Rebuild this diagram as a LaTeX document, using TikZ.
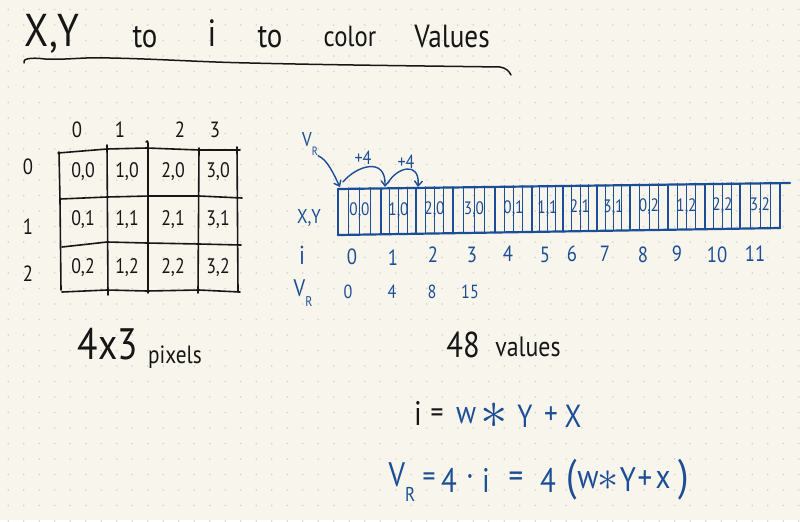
\documentclass[tikz,border=0pt]{standalone}
\usepackage{fontspec}
\setmainfont{PT Sans}[FakeStretch=0.85]
\usetikzlibrary{arrows.meta}
\definecolor{paper}{HTML}{F8F6EC}
\definecolor{dotc}{HTML}{D4D2C8}
\definecolor{ink}{HTML}{161616}
\definecolor{bink}{HTML}{1C4E97}
\tikzset{
  tk/.style={font=\fontsize{#1}{#1}\selectfont, inner sep=0pt, text=ink},
  tb/.style={font=\fontsize{#1}{#1}\selectfont, inner sep=0pt, text=bink},
  gridline/.style={draw=ink, line width=1.6},
  stripout/.style={draw=bink, line width=2.2},
  stripthin/.style={draw=bink, line width=0.9},
  arr/.style={draw=bink, line width=1.4, -{Straight Barb[length=5pt,width=8pt]}},
}
\newcommand{\subR}[1]{\raisebox{-0.45em}{\fontsize{#1}{#1}\selectfont R}}
\newcommand{\mystar}[1]{\scalebox{#1}{$\ast$}}
\begin{document}
\begin{tikzpicture}[x=1pt,y=-1pt,line cap=round,line join=round]
\fill[paper] (0,0) rectangle (800,520);
\foreach \i in {0,...,51} \foreach \j in {0,...,33}
  \fill[dotc] ({8.3+15.5*\i},{9.5+15.5*\j}) circle[radius=0.9pt];
\useasboundingbox (0,0) rectangle (800,520);

% ---------- title ----------
\node[tk=46, anchor=base] (tXY) at (52,46) {X,Y};
\node[tk=34, anchor=base] (tto1) at (145,47) {to};
\node[tk=38, anchor=base] (ti) at (212,46) {i};
\node[tk=34, anchor=base] (tto2) at (270,47) {to};
\node[tk=29, anchor=base] (tcol) at (350,46) {color};
\node[tk=32, anchor=base] (tval) at (452,47) {Values};
\draw[ink, line width=1.5] (24,63) .. controls (22,59) and (30,57) .. (45,59)
  .. controls (70,60) and (80,57) .. (110,58)
  .. controls (160,59) and (200,62) .. (250,63)
  .. controls (330,65) and (430,66) .. (500,67)
  .. controls (506,68) and (509,71) .. (511,75);

% ---------- 4x3 grid ----------
\draw[gridline] (58,153) -- (107,149) -- (147,148) -- (199,150) -- (240,150);
\draw[gridline] (60,199) -- (107,197) -- (150,196) -- (199,196) -- (242,198);
\draw[gridline] (62,247) -- (107,242) -- (147,243) -- (199,244) -- (241,245);
\draw[gridline] (62,292) -- (107,290) -- (147,291) -- (199,290) -- (240,292);
\draw[gridline] (59,152) -- (60,200) -- (61,290);
\draw[gridline] (107,145) -- (108,295);
\draw[gridline] (146,142) .. controls (147,140) and (148,141) .. (148,143) -- (148,293);
\draw[gridline] (199,148) -- (198,293);
\draw[gridline] (237,147) -- (238,292);
\foreach \x/\t in {77/0,120/1,180/2,215/3}
  \node[tk=22] (gc\t) at (\x,130) {\t};
\foreach \y/\t in {167/0,227/1,274/2}
  \node[tk=22] (gr\t) at (28,\y) {\t};
\foreach \x [count=\c from 0] in {83,127,173,218}
  \foreach \y [count=\r from 0] in {172,220,268}
    \node[tk=21] (g\c\r) at (\x,\y) {\c,\r};

% ---------- strip ----------
\foreach \a [count=\k from 0] in {338,381,416,453,495,532,563,597,630,668,705,740,780} {
  \coordinate (t\k) at (\a,{189-6*(\a-338)/442});
  \coordinate (b\k) at (\a,{235-7*(\a-338)/442});
}
\foreach \a/\b [count=\k from 0] in {338/381,381/416,416/453,453/495,495/532,532/563,563/597,597/630,630/668,668/705,705/740,740/780} {
  \foreach \j in {1,2,3} {
    \pgfmathsetmacro\xx{\a+\j*(\b-\a)/4}
    \draw[stripthin] (\xx,{188-6*(\xx-338)/442}) -- (\xx,{235-7*(\xx-338)/442});
  }
  \pgfmathtruncatemacro\px{mod(\k,4)}
  \pgfmathtruncatemacro\py{div(\k,4)}
  \node[tb=18] (c\k) at ({(\a+\b)/2},{211-6*((\a+\b)/2-338)/442}) {\px,\py};
}
\coordinate (tend) at (790,183);
\draw[stripout] (t0) -- (tend);
\draw[stripout] (b0) -- (b12);
\foreach \k in {0,...,12} \draw[stripout] (t\k) -- (b\k);

% row labels
\node[tb=20] (lxy) at (309,218) {X,Y};
\node[tb=26] (li) at (302,255) {i};
\node[tb=24] (lvr) at (303,293) {V\subR{14}};

% i row
\foreach \x/\t/\y in {352/0/257,393/1/258,433/2/255,472/3/255,508/4/254,545/5/255,572/6/254,605/7/254,643/8/255,677/9/254,717/10/255,755/11/254}
  \node[tb=22] (i\t) at (\x,\y) {\t};
% V_R row
\foreach \x/\t/\n in {348/0/a,392/4/b,432/8/c,470/15/d}
  \node[tb=19] (v\n) at (\x,292) {\t};

% arrows
\node[tb=20] (vrl) at (310,144) {V\subR{12}};
\node[tb=19] (p1) at (363,158) {+4};
\node[tb=19] (p2) at (406,162) {+4};
\coordinate (a0) at (340,187);
\coordinate (a1) at (385,187);
\coordinate (a2) at (418,187);
\coordinate (s1) at (343,182);
\coordinate (s2) at (388,183);
\draw[arr] (vrl.south east) .. controls (328,160) and (334,175) .. (a0);
\draw[arr] (s1) .. controls (356,166) and (386,156) .. (a1);
\draw[arr] (s2) .. controls (396,168) and (420,160) .. (a2);

% ---------- bottom captions ----------
\node[tk=44, anchor=base] (c4x3) at (108,359) {4x3};
\node[tk=25, anchor=base] (cpix) at (175,363) {pixels};
\node[tk=36, anchor=base] (c48) at (463,357) {48};
\node[tk=28, anchor=base] (cval) at (528,356) {values};

% ---------- formula 1 ----------
\node[tk=34] (f1i) at (418,413) {i};
\node[tk=30] (f1e) at (437,416) {=};
\foreach \x/\t/\n in {466/w/a,525/Y/c,551/+/d,573/X/e}
  \node[tb=32] (f1\n) at (\x,416) {\t};
\node[tb=24] (f1b) at (494,416) {\mystar{2.2}};

% ---------- formula 2 ----------
\node[tb=34] (f2v) at (402,482) {V\subR{20}};
\node[tb=30] (f2e1) at (429,480) {=};
\foreach \x/\t/\n in {449/4/a,470/·/b,486/i/c,516/=/d,548/4/e,588/w/f,628/Y/h,645/+/i,663/x/j}
  \node[tb=34] (f2\n) at (\x,480) {\t};
\node[tb=24] (f2g) at (608,481) {\mystar{1.7}};
\node[tb=44] (f2lp) at (572,480) {(};
\node[tb=44] (f2rp) at (684,480) {)};
\end{tikzpicture}
\end{document}
